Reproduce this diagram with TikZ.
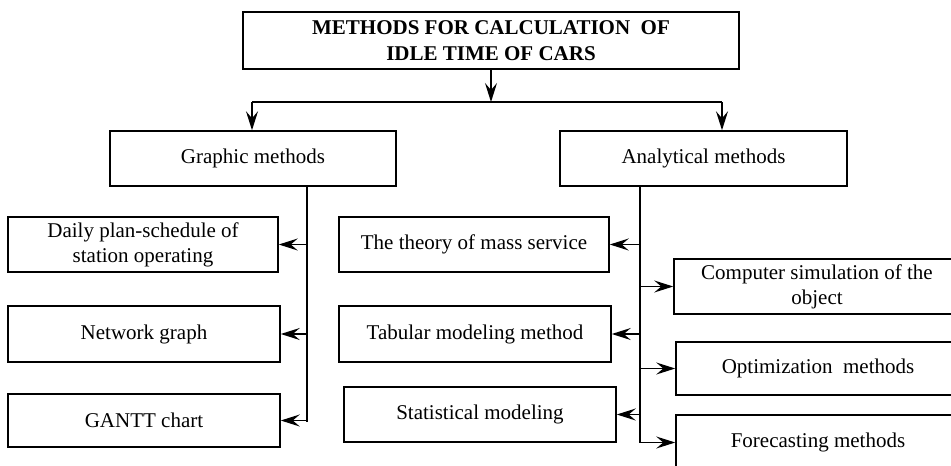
\documentclass[tikz,border=0pt]{standalone}
\usepackage{fontspec}
\setmainfont{Liberation Serif}
\usetikzlibrary{arrows.meta}
\begin{document}
\begin{tikzpicture}[x=1pt,y=-1pt,
  box/.style={draw,line width=1.5pt,inner sep=0pt,align=center,
    font=\fontsize{21}{25}\selectfont},
  arr/.style={line width=1.5pt,-{Stealth[length=19pt,width=12pt,inset=7pt]}},
  ln/.style={line width=1.5pt}]
\clip (0,0) rectangle (951,466);
% nodes
\node[box,minimum width=496pt,minimum height=57pt,
  font=\fontsize{21}{26}\selectfont\bfseries] (top) at (491,40.5)
  {\raisebox{-3pt}{METHODS FOR CALCULATION\ \ OF}\\\raisebox{-3pt}{IDLE TIME OF CARS}};
\node[box,minimum width=286pt,minimum height=55pt] (gr) at (253,158.5) {Graphic methods};
\node[box,minimum width=287pt,minimum height=55pt] (an) at (703.5,158.5) {Analytical methods};
\node[box,minimum width=270pt,minimum height=55pt] (daily) at (143,244.5) {Daily plan-schedule of\\station operating};
\node[box,minimum width=272pt,minimum height=56pt] (net) at (144,334) {Network graph};
\node[box,minimum width=272pt,minimum height=53pt] (gantt) at (144,420.5) {GANTT chart};
\node[box,minimum width=270pt,minimum height=55pt] (theory) at (474,244.5) {The theory of mass service};
\node[box,minimum width=272pt,minimum height=56pt] (tab) at (475,334) {Tabular modeling method};
\node[box,minimum width=272pt,minimum height=55pt] (stat) at (480,414.5) {Statistical modeling};
\node[box,minimum width=286pt,minimum height=55pt] (comp) at (817,286.5) {Computer simulation of the\\object};
\node[box,minimum width=284pt,minimum height=53pt] (opt) at (818,368.5) {Optimization\ \ methods};
\node[box,minimum width=284pt,minimum height=55pt] (fore) at (818,442.5) {Forecasting methods};
% junction coordinates
\coordinate (jl) at (252,102);
\coordinate (jr) at (722,102);
\coordinate (ls) at (307,186);
\coordinate (le) at (307,422);
\coordinate (rs) at (640,186);
\coordinate (re) at (640,443);
% top connectors
\draw[arr] (top.south) -- (top.south |- jl);
\draw[ln] (jl) -- (jr);
\draw[arr] (jl) -- (jl |- gr.north);
\draw[arr] (jr) -- (jr |- an.north);
% left spine
\draw[ln] (ls) -- (le);
\draw[arr] (ls |- daily.east) -- (daily.east);
\draw[arr] (ls |- net.east) -- (net.east);
\draw[arr] (ls |- gantt.east) -- (gantt.east);
% right spine
\draw[ln] (rs) -- (re);
\draw[arr] (rs |- theory.east) -- (theory.east);
\draw[arr] (rs |- tab.east) -- (tab.east);
\draw[arr] (rs |- stat.east) -- (stat.east);
\draw[arr] (rs |- comp.west) -- (comp.west);
\draw[arr] (rs |- opt.west) -- (opt.west);
\draw[arr] (rs |- fore.west) -- (fore.west);
\end{tikzpicture}
\end{document}
